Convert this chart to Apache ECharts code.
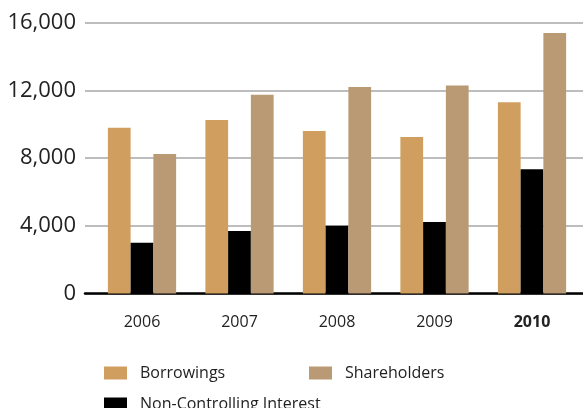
<!DOCTYPE html>
<html><head><meta charset="utf-8">
<script src="https://cdn.jsdelivr.net/npm/echarts@6/dist/echarts.min.js"></script>
<style>html,body{margin:0;padding:0;background:#fff}#c{width:583px;height:408px}</style>
</head><body><div id="c"></div>
<script>
const categories = ['2006', '2007', '2008', '2009', '2010'];
const borrowings = [9800, 10250, 9600, 9250, 11300];
const nonControlling = [3000, 3700, 4000, 4220, 7350];
const shareholders = [8250, 11750, 12200, 12300, 15400];
const yTicks = [0, 4000, 8000, 12000, 16000];

(function () {
const FONT = '"Open Sans", "Noto Sans", sans-serif';
const chart = echarts.init(document.getElementById('c'), null, {renderer: 'canvas'});
const gTop = 22.8, gBottom = 408 - 293.5;
chart.setOption({
  animation: false,
  textStyle: {fontFamily: FONT},
  grid: [
    {left: 93.25, right: 2.25, top: gTop, bottom: gBottom},
    {left: 85, right: 0, top: gTop, bottom: gBottom}
  ],
  xAxis: [
    {type: 'category', gridIndex: 0, data: categories,
     axisLine: {show: false}, axisTick: {show: false},
     axisLabel: {margin: 21, fontSize: 16, color: '#222', fontFamily: FONT,
       formatter: function (v) { return v === '2010' ? '{b|' + v + '}' : v; },
       rich: {b: {fontWeight: 'bold', fontSize: 16, color: '#222', fontFamily: FONT}}}},
    {type: 'value', gridIndex: 1, min: 0, max: 1, show: true,
     axisLine: {show: true, onZero: false, lineStyle: {color: '#000', width: 2.5}},
     axisTick: {show: false}, axisLabel: {show: false}, splitLine: {show: false}}
  ],
  yAxis: [
    {type: 'value', gridIndex: 0, min: yTicks[0], max: yTicks[yTicks.length - 1], interval: 4000,
     show: false, splitLine: {show: false}},
    {type: 'value', gridIndex: 1, min: yTicks[0], max: yTicks[yTicks.length - 1], interval: 4000,
     axisLine: {show: false}, axisTick: {show: false},
     axisLabel: {margin: 9, fontSize: 22, color: '#222', fontFamily: FONT,
       formatter: function (v) { return v.toLocaleString('en-US'); }},
     splitLine: {show: true, lineStyle: {color: '#bdbdbd', width: 2}}}
  ],
  legend: [
    {data: ['Borrowings'], left: 104, top: 365, itemWidth: 23, itemHeight: 13, itemGap: 0,
     textStyle: {fontSize: 16, color: '#222', fontFamily: FONT, padding: [0, 0, 0, 8]}, padding: 0, icon: 'rect'},
    {data: ['Shareholders'], left: 309, top: 365, itemWidth: 23, itemHeight: 13, itemGap: 0,
     textStyle: {fontSize: 16, color: '#222', fontFamily: FONT, padding: [0, 0, 0, 8]}, padding: 0, icon: 'rect'},
    {data: ['Non-Controlling Interest'], left: 104, top: 396, itemWidth: 23, itemHeight: 13, itemGap: 0,
     textStyle: {fontSize: 16, color: '#222', fontFamily: FONT, padding: [0, 0, 0, 8]}, padding: 0, icon: 'rect'}
  ],
  series: [
    {name: 'Borrowings', type: 'bar', xAxisIndex: 0, yAxisIndex: 0, data: borrowings,
     itemStyle: {color: '#d09f5f'}, barGap: '0%', barCategoryGap: '30%'},
    {name: 'Non-Controlling Interest', type: 'bar', xAxisIndex: 0, yAxisIndex: 0, data: nonControlling,
     itemStyle: {color: '#000000'}, barGap: '0%', barCategoryGap: '30%'},
    {name: 'Shareholders', type: 'bar', xAxisIndex: 0, yAxisIndex: 0, data: shareholders,
     itemStyle: {color: '#ba9a74'}, barGap: '0%', barCategoryGap: '30%'}
  ]
});
})();
</script></body></html>
